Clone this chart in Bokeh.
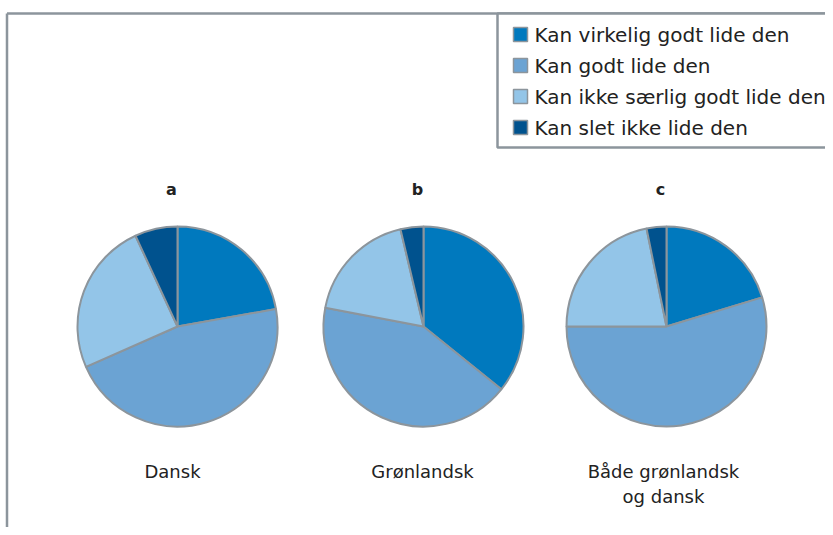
import math
from bokeh.plotting import figure
from bokeh.models import Range1d, ColumnDataSource
from bokeh.core.properties import value
from bokeh.embed import file_html
from bokeh.resources import INLINE

# ---------------- data ----------------
categories = [
    "Kan virkelig godt lide den",
    "Kan godt lide den",
    "Kan ikke særlig godt lide den",
    "Kan slet ikke lide den",
]
colors = ["#0079BE", "#6BA3D3", "#93C5E8", "#00528E"]
panel_letters = ["a", "b", "c"]
panel_names = ["Dansk", "Grønlandsk", "Både grønlandsk\nog dansk"]
dansk = [22.2, 46.2, 24.7, 6.9]
groenlandsk = [35.8, 42.2, 18.3, 3.7]
begge = [20.3, 54.7, 21.8, 3.2]
series = [dansk, groenlandsk, begge]

# ---------------- layout ----------------
W, H = 825, 527
def Y(py):
    return H - py

FONT = "DejaVu Sans"
GRAY = "#8C959C"
TXT = "#222222"

p = figure(width=W, height=H, output_backend="svg", toolbar_location=None,
           x_range=Range1d(0, W), y_range=Range1d(0, H),
           min_border=0, background_fill_color="white")
p.axis.visible = False
p.grid.visible = False
p.outline_line_color = None

# outer frame (top and left edges)
p.line(x=[6.5, 840], y=[Y(13), Y(13)], line_color=GRAY, line_width=2.5)
p.line(x=[6.5, 6.5], y=[Y(13), Y(540)], line_color=GRAY, line_width=2.5)

centers_x = [177, 423, 666]
cy = 326
radius = 100

for ci, cat in enumerate(categories):
    xs, ys, st, en = [], [], [], []
    for si, vals in enumerate(series):
        tot = sum(vals)
        before = sum(vals[:ci]) / tot
        after = sum(vals[:ci + 1]) / tot
        xs.append(centers_x[si])
        ys.append(Y(cy))
        st.append(math.pi / 2 - before * 2 * math.pi)
        en.append(math.pi / 2 - after * 2 * math.pi)
    src = ColumnDataSource(dict(x=xs, y=ys, start=st, end=en))
    p.wedge(x="x", y="y", radius=radius, start_angle="start", end_angle="end",
            direction="clock", source=src, fill_color=colors[ci],
            line_color=GRAY, line_width=2)

# panel letters
p.text(x=[cx - 6 for cx in centers_x], y=[Y(189)] * 3, text=panel_letters,
       text_font=value(FONT), text_font_style="bold", text_font_size="16px",
       text_align="center", text_baseline="middle", text_color=TXT)

# panel names
p.text(x=[172, 422, 663], y=[Y(460)] * 3, text=panel_names,
       text_font=value(FONT), text_font_size="18px", text_align="center",
       text_baseline="top", text_color=TXT, text_line_height=1.22)

# legend box
p.quad(left=[497], right=[845], top=[Y(13)], bottom=[Y(147)],
       fill_color="white", line_color=GRAY, line_width=2.5)
row_y = [Y(34 + 31 * i) for i in range(len(categories))]
p.rect(x=[520] * len(categories), y=row_y, width=14, height=14,
       fill_color=colors, line_color=GRAY, line_width=1.5)
p.text(x=[534] * len(categories), y=row_y, text=categories,
       text_font=value(FONT), text_font_size="20px", text_align="left",
       text_baseline="middle", text_color=TXT)

open("out.html", "w").write(file_html(p, INLINE))
